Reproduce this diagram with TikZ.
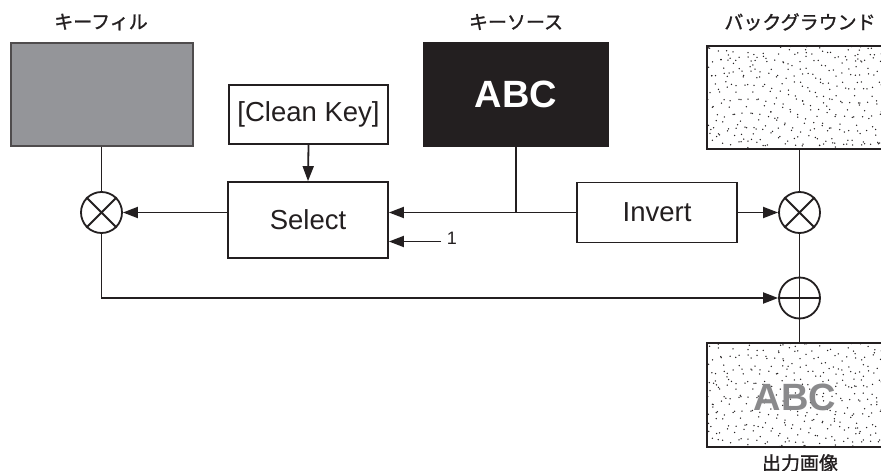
\documentclass[tikz,border=0pt]{standalone}
\usepackage{fontspec}
\setmainfont{Liberation Sans}
\newfontfamily\jp[FakeBold=1.2]{Noto Sans CJK JP}
\usetikzlibrary{arrows.meta}
\definecolor{ink}{RGB}{35,31,32}
\definecolor{fillgray}{RGB}{148,149,153}
\definecolor{abcgray}{RGB}{138,138,140}
\newcommand\mydots[5]{%
  \begin{scope}
  \pgfmathsetseed{#5}
  \clip (#1,#2) rectangle ++(#3,#4);
  \foreach \i in {1,...,60}{
    \pgfmathsetmacro\xx{#1+rnd*#3}
    \pgfmathsetmacro\yy{#2+rnd*#4}
    \fill[ink] (\xx,\yy) circle (0.75);
  }
  \foreach \r in {10,24,...,200}{\draw[dotpat] (#1+40,#2+#4+30) circle (\r);}
  \foreach \r in {17,31,...,200}{\draw[dotpat] (#1+150,#2-30) circle (\r);}
  \end{scope}}
\begin{document}
\begin{tikzpicture}[x=1pt,y=-1pt,line width=1.8pt,draw=ink,
  box/.style={draw=ink,fill=white,inner sep=2pt,font=\fontsize{27.5}{32}\selectfont,text=ink},
  lbl/.style={font=\jp\fontsize{19}{22}\selectfont,text=ink,inner sep=0pt},
  op/.style={circle,draw=ink,fill=white,minimum size=41pt,inner sep=0pt},
  arr/.style={-{Triangle[length=15pt,width=11pt]}},
  dotpat/.style={draw=ink,line width=1.5pt,line cap=round,dash pattern=on 0pt off 9pt}]
\clip (0,0) rectangle (881,471);
\fill[white] (0,0) rectangle (881,471);

% labels
\node[lbl] (lkf) at (101,22) {キーフィル};
\node[lbl] (lks) at (516,22) {キーソース};
\node[lbl] (lbg) at (800,22) {バックグラウンド};
\node[lbl] (lout) at (800,463) {出力画像};

% picture boxes
\node[draw=ink!80,fill=fillgray,minimum width=182pt,minimum height=103pt,inner sep=0pt] (kf) at (102,94.5) {};
\node[draw=ink,fill=ink,minimum width=184pt,minimum height=103pt,inner sep=0pt,
  text=white,font=\bfseries\fontsize{38}{44}\selectfont] (ks) at (516,94.5) {ABC};

\mydots{707}{46}{180}{103}{17}
\node[draw=ink,minimum width=200pt,minimum height=103pt,inner sep=0pt] (bg) at (807,97.5) {};

\mydots{707}{343}{180}{104}{23}
\node[draw=ink,minimum width=200pt,minimum height=104pt,inner sep=0pt] (out) at (807,395) {};
\node[text=abcgray,font=\bfseries\fontsize{38}{44}\selectfont,inner sep=0pt] (abc2) at (795,397) {ABC};

% function boxes
\node[box,minimum width=159pt,minimum height=59pt] (ck) at (308.5,114.5) {[Clean Key]};
\node[box,minimum width=160pt,minimum height=76pt] (sel) at (308,220) {Select};
\node[box,minimum width=160pt,minimum height=60pt] (inv) at (657,212.5) {Invert};

% operators
\node[op] (m1) at (101.5,212.5) {};
\draw (m1.north west) -- (m1.south east) (m1.north east) -- (m1.south west);
\node[op] (m2) at (799.5,212.5) {};
\draw (m2.north west) -- (m2.south east) (m2.north east) -- (m2.south west);
\node[op] (p1) at (799.5,298) {};
\draw (p1.north) -- (p1.south) (p1.west) -- (p1.east);

% connectors
\draw (kf.south -| m1.north) -- (m1.north);
\draw[arr] (m1.south) |- (p1.west);
\draw[arr] (sel.west |- m1.east) -- (m1.east);
\draw[arr] (ck.south) -- (sel.north);
\coordinate (j) at (516,212.5);
\draw (ks.south) -- (j);
\draw[arr] (j) -- (sel.east |- j);
\draw (j) -- (inv.west);
\draw[arr] (inv.east) -- (m2.west);
\draw (m2.north |- bg.south) -- (m2.north);
\draw (m2.south) -- (p1.north);
\draw (p1.south) -- (p1.south |- out.north);

\node[font=\fontsize{18}{20}\selectfont,text=ink,inner sep=0pt,anchor=west] (one) at (446,238.5) {1};
\coordinate (onein) at (441,241.5);
\draw[arr] (onein) -- (sel.east |- onein);
\end{tikzpicture}
\end{document}
